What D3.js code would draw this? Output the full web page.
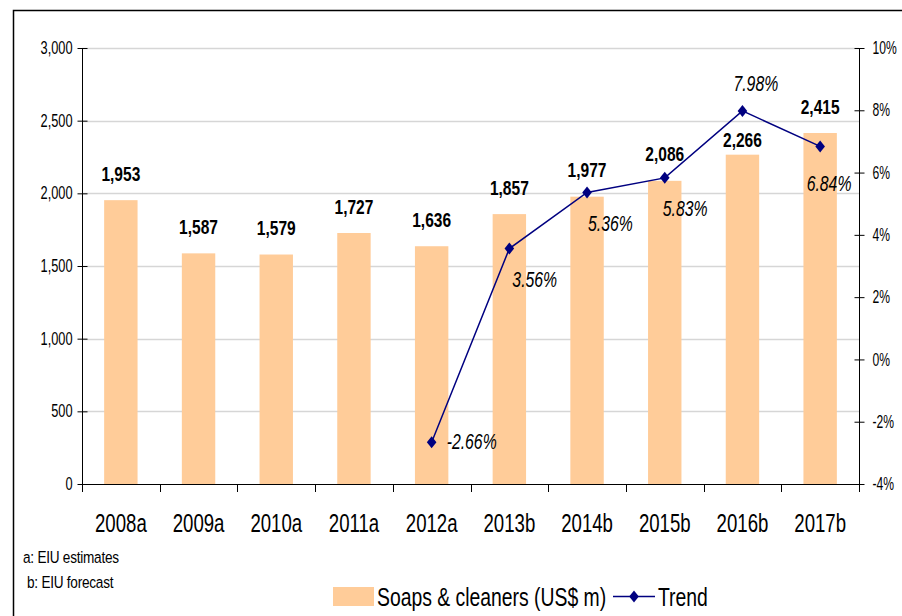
<!DOCTYPE html>
<html>
<head>
<meta charset="utf-8">
<script src="https://cdn.jsdelivr.net/npm/d3@7"></script>
<style>
  html, body { margin: 0; padding: 0; background: #fff; }
  svg { display: block; }
  text { font-family: "Liberation Sans", Arial, sans-serif; fill: #000; }
</style>
</head>
<body>
<svg id="chart" width="902" height="616"></svg>
<script>
// Market size of soaps & cleaners and its yearly growth trend
const years = ["2008a", "2009a", "2010a", "2011a", "2012a", "2013b", "2014b", "2015b", "2016b", "2017b"];
const sales = [1953, 1587, 1579, 1727, 1636, 1857, 1977, 2086, 2266, 2415];
const trend = [null, null, null, null, -2.66, 3.56, 5.36, 5.83, 7.98, 6.84];
const leftTicks = [0, 500, 1000, 1500, 2000, 2500, 3000];
const rightTicks = [-4, -2, 0, 2, 4, 6, 8, 10];
const footnotes = ["a: EIU estimates", "b: EIU forecast"];
const legendLabels = ["Soaps & cleaners (US$ m)", "Trend"];

// Label placement for the trend values (offset of the text start/baseline from each marker)
const trendLabelPlacement = {
  "2012a": { dx: 15, dy: 7 },
  "2013b": { dx: 3, dy: 38 },
  "2014b": { dx: 1, dy: 38 },
  "2015b": { dx: -2, dy: 38 },
  "2016b": { dx: -9, dy: -20 },
  "2017b": { dx: -13.5, dy: 44.5 }
};
// Bar value labels that sit closer to their bar to keep clear of the trend line
const loweredLabels = new Set(["2016b"]);

// narrow type: every label is drawn horizontally condensed
const NARROW = 0.73;
function placeText(sel, fx, fy, sx = NARROW) {
  sel.attr("transform", (d, i) => `translate(${fx(d, i)},${fy(d, i)}) scale(${sx},1)`)
     .attr("x", 0).attr("y", 0);
}

const svg = d3.select("#chart");
const m = { left: 82, right: 859, top: 48, bottom: 484 };

// frame around the whole chart (runs off the right and bottom edges)
svg.append("rect")
  .attr("x", 13.5).attr("y", 10.5)
  .attr("width", 900).attr("height", 620)
  .attr("fill", "none").attr("stroke", "#000").attr("stroke-width", 1.5);

const x = d3.scaleBand().domain(years).range([m.left, m.right]).paddingInner(0).paddingOuter(0);
const y = d3.scaleLinear().domain([0, 3000]).range([m.bottom, m.top]);
const y2 = d3.scaleLinear().domain([-4, 10]).range([m.bottom, m.top]);
const cx = yr => x(yr) + x.bandwidth() / 2;

// horizontal gridlines from the left axis
svg.append("g").selectAll("line")
  .data(leftTicks.filter(d => d > 0))
  .join("line")
  .attr("x1", m.left).attr("x2", m.right)
  .attr("y1", d => Math.round(y(d)) + 0.5).attr("y2", d => Math.round(y(d)) + 0.5)
  .attr("stroke", "#d6d6d6").attr("stroke-width", 1.5);

// bars
const barW = x.bandwidth() * 0.43;
const barData = years.map((yr, i) => ({ yr, v: sales[i] }));
svg.append("g").selectAll("rect")
  .data(barData)
  .join("rect")
  .attr("x", d => cx(d.yr) - barW / 2)
  .attr("y", d => y(d.v))
  .attr("width", barW)
  .attr("height", d => y(0) - y(d.v))
  .attr("fill", "#ffcc99");

// left axis
const leftAxis = d3.axisLeft(y).tickValues(leftTicks).tickFormat(d3.format(",")).tickSizeInner(5).tickSizeOuter(0);
const gl = svg.append("g").attr("transform", `translate(${m.left + 0.5},0)`).call(leftAxis);
gl.select(".domain").attr("stroke", "#000").attr("d", `M0,${m.top}V${m.bottom + 8}`);
gl.selectAll(".tick line").attr("x1", -5).attr("x2", 5).attr("stroke", "#000");
gl.selectAll(".tick text").attr("font-size", 17.5).style("font-family", null)
  .attr("x", 0).attr("transform", `translate(-10,0) scale(${NARROW},1)`);

// right axis
const rightAxis = d3.axisRight(y2).tickValues(rightTicks).tickFormat(d => d + "%").tickSizeInner(5).tickSizeOuter(0);
const gr = svg.append("g").attr("transform", `translate(${m.right + 0.5},0)`).call(rightAxis);
gr.select(".domain").attr("stroke", "#000").attr("d", `M0,${m.top}V${m.bottom + 8}`);
gr.selectAll(".tick line").attr("x1", -5).attr("x2", 5).attr("stroke", "#000");
gr.selectAll(".tick text").attr("font-size", 17.5).style("font-family", null)
  .attr("x", 0).attr("transform", `translate(13,0) scale(${NARROW * 0.95},1)`);

// category axis with ticks between categories
const gx = svg.append("g");
gx.append("line")
  .attr("x1", m.left).attr("x2", m.right)
  .attr("y1", m.bottom + 0.5).attr("y2", m.bottom + 0.5)
  .attr("stroke", "#000");
gx.selectAll("line.sep")
  .data(years.slice(1))
  .join("line").attr("class", "sep")
  .attr("x1", d => Math.round(x(d)) + 0.5).attr("x2", d => Math.round(x(d)) + 0.5)
  .attr("y1", m.bottom).attr("y2", m.bottom + 8)
  .attr("stroke", "#000");
gx.selectAll("text")
  .data(years)
  .join("text")
  .attr("text-anchor", "middle")
  .attr("font-size", 25.5)
  .text(d => d)
  .call(placeText, d => cx(d), () => m.bottom + 47.5);

// bar value labels
svg.append("g").selectAll("text")
  .data(barData)
  .join("text")
  .attr("text-anchor", "middle")
  .attr("font-size", 21)
  .attr("font-weight", "bold")
  .text(d => d3.format(",")(d.v))
  .call(placeText, d => cx(d.yr), d => y(d.v) - (loweredLabels.has(d.yr) ? 7.5 : 19.5), 0.74);

// trend line with diamond markers
const pts = years.map((yr, i) => ({ yr, v: trend[i] })).filter(d => d.v !== null);
const line = d3.line().x(d => cx(d.yr)).y(d => y2(d.v));
svg.append("path")
  .datum(pts)
  .attr("d", line)
  .attr("fill", "none")
  .attr("stroke", "#000080")
  .attr("stroke-width", 1.5);
svg.append("g").selectAll("path")
  .data(pts)
  .join("path")
  .attr("transform", d => `translate(${cx(d.yr)},${y2(d.v)})`)
  .attr("d", "M0,-6L4.8,0L0,6L-4.8,0Z")
  .attr("fill", "#000080");

// trend value labels
svg.append("g").selectAll("text")
  .data(pts)
  .join("text")
  .attr("text-anchor", "start")
  .attr("font-size", 21.5)
  .attr("font-style", "italic")
  .text(d => d.v.toFixed(2) + "%")
  .call(placeText,
        d => cx(d.yr) + trendLabelPlacement[d.yr].dx,
        d => y2(d.v) + trendLabelPlacement[d.yr].dy, 0.735);

// footnotes
svg.append("g").selectAll("text")
  .data(footnotes)
  .join("text")
  .attr("font-size", 17)
  .attr("letter-spacing", -0.3)
  .text(d => d)
  .call(placeText, (d, i) => 23 + i * 4, (d, i) => 563 + i * 25, 0.8);

// legend
const lg = svg.append("g");
lg.append("rect").attr("x", 333).attr("y", 587).attr("width", 41).attr("height", 19).attr("fill", "#ffcc99");
lg.append("text").attr("font-size", 26).text(legendLabels[0])
  .call(placeText, () => 377, () => 605.5, 0.745);
lg.append("line").attr("x1", 613).attr("x2", 655).attr("y1", 596.5).attr("y2", 596.5).attr("stroke", "#000080").attr("stroke-width", 1.5);
lg.append("path").attr("transform", "translate(634,596.5)").attr("d", "M0,-6L4.8,0L0,6L-4.8,0Z").attr("fill", "#000080");
lg.append("text").attr("font-size", 26).text(legendLabels[1])
  .call(placeText, () => 658, () => 605.5, 0.745);
</script>
</body>
</html>
